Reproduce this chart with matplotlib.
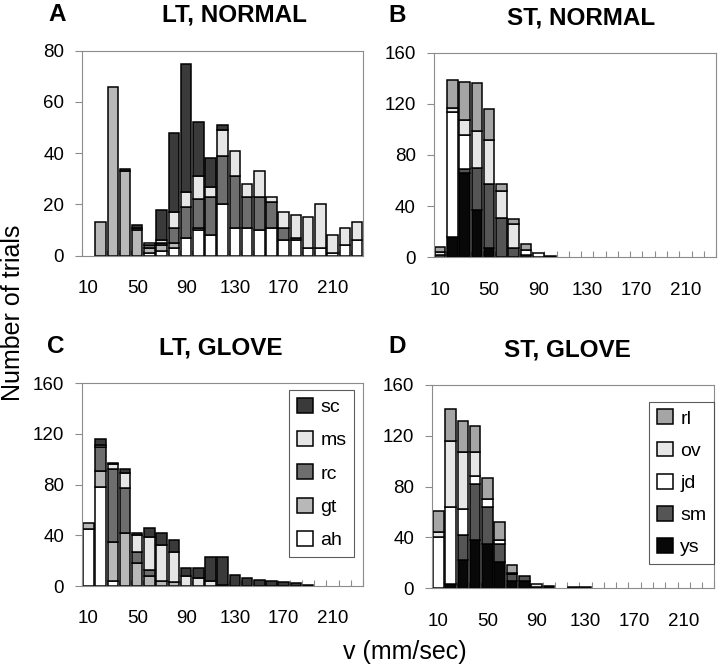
import numpy as np
import matplotlib
matplotlib.use("Agg")
import matplotlib.pyplot as plt
from matplotlib.patches import Patch

plt.rcParams['font.family'] = ['Liberation Sans', 'DejaVu Sans']

# speed bins (mm/sec), one category per 10 mm/sec
speeds = np.arange(10, 240, 10)

# A: LT, NORMAL (stack order bottom -> top: ah, gt, rc, ms, sc)
lt_normal = {
    'ah': [0, 0, 0, 0, 0, 1, 2, 3, 7, 10, 8, 20, 11, 11, 10, 11, 6, 6, 3, 3, 1, 4, 6],
    'gt': [0, 13, 66, 33, 10, 2, 2, 2, 0, 1, 0, 0, 0, 0, 0, 0, 0, 0, 0, 0, 0, 0, 0],
    'rc': [0, 0, 0, 0, 1, 1, 1, 6, 12, 11, 15, 19, 20, 12, 13, 10, 5, 1, 0, 0, 0, 0, 0],
    'ms': [0, 0, 0, 0, 0, 1, 1, 6, 6, 9, 4, 10, 10, 5, 10, 2, 6, 9, 12, 17, 7, 7, 7],
    'sc': [0, 0, 0, 1, 1, 0, 12, 31, 50, 21, 11, 2, 0, 0, 0, 0, 0, 0, 0, 0, 0, 0, 0],
}
# C: LT, GLOVE
lt_glove = {
    'ah': [45, 78, 4, 0, 0, 0, 0, 0, 0, 0, 0, 0, 0, 0, 0, 0, 0, 0, 0, 0, 0, 0, 0],
    'gt': [5, 13, 31, 42, 18, 8, 4, 3, 0, 0, 0, 0, 0, 0, 0, 0, 0, 0, 0, 0, 0, 0, 0],
    'rc': [0, 19, 57, 35, 9, 5, 0, 0, 0, 0, 0, 0, 0, 0, 0, 0, 0, 0, 0, 0, 0, 0, 0],
    'ms': [0, 1, 4, 12, 13, 26, 28, 24, 8, 6, 4, 1, 0, 0, 0, 0, 0, 0, 0, 0, 0, 0, 0],
    'sc': [0, 5, 1, 3, 2, 7, 10, 9, 6, 8, 19, 22, 9, 6, 5, 4, 3, 2, 1, 0, 0, 0, 0],
}
# B: ST, NORMAL (stack order bottom -> top: ys, sm, jd, ov, rl)
st_normal = {
    'ys': [0, 16, 66, 37, 7, 0, 0, 0, 0, 1, 0, 0, 0, 0, 0, 0, 0, 0, 0, 0, 0, 0, 0],
    'sm': [0, 0, 3, 33, 50, 31, 7, 2, 0, 0, 0, 0, 0, 0, 0, 0, 0, 0, 0, 0, 0, 0, 0],
    'jd': [2, 98, 27, 0, 0, 0, 0, 4, 3, 0, 0, 0, 0, 0, 0, 0, 0, 0, 0, 0, 0, 0, 0],
    'ov': [2, 3, 11, 29, 35, 21, 19, 0, 0, 0, 0, 0, 0, 0, 0, 0, 0, 0, 0, 0, 0, 0, 0],
    'rl': [4, 22, 30, 37, 24, 5, 4, 4, 0, 0, 0, 0, 0, 0, 0, 0, 0, 0, 0, 0, 0, 0, 0],
}
# D: ST, GLOVE
st_glove = {
    'ys': [0, 3, 22, 38, 35, 21, 6, 6, 1, 2, 0, 1, 1, 0, 0, 0, 0, 0, 0, 0, 0, 0, 0],
    'sm': [0, 0, 20, 44, 29, 14, 5, 4, 0, 0, 0, 0, 0, 0, 0, 0, 0, 0, 0, 0, 0, 0, 0],
    'jd': [40, 61, 20, 6, 6, 3, 1, 0, 0, 0, 0, 0, 0, 0, 0, 0, 0, 0, 0, 0, 0, 0, 0],
    'ov': [4, 52, 45, 19, 0, 0, 0, 0, 2, 0, 0, 0, 0, 0, 0, 0, 0, 0, 0, 0, 0, 0, 0],
    'rl': [17, 25, 25, 21, 17, 14, 6, 0, 0, 0, 0, 0, 0, 0, 0, 0, 0, 0, 0, 0, 0, 0, 0],
}

lt_colors = {'ah': '#ffffff', 'gt': '#b8b8b8', 'rc': '#6e6e6e', 'ms': '#e6e6e6', 'sc': '#3a3a3a'}
st_colors = {'ys': '#080808', 'sm': '#555555', 'jd': '#ffffff', 'ov': '#e6e6e6', 'rl': '#a5a5a5'}

GRAY = '#8c8c8c'


def panel(rect, layers, colors, ymax, ystep, legend=None, lspace=0.78):
    ax = fig.add_axes(rect)
    x = np.arange(len(speeds))
    bottom = np.zeros(len(speeds))
    for name, vals in layers.items():
        vals = np.asarray(vals, dtype=float)
        keep = vals > 0
        ax.bar(x[keep], vals[keep], bottom=bottom[keep], width=0.86,
               color=colors[name], edgecolor='black', linewidth=1.1)
        bottom += vals
    ax.set_xlim(-0.5, len(speeds) - 0.5)
    ax.set_ylim(0, ymax)
    ax.set_axisbelow(True)
    for s in ax.spines.values():
        s.set_color(GRAY)
        s.set_linewidth(0.8)
    ax.set_xticks(x[::4])
    ax.set_xticklabels([str(v) for v in speeds[::4]])
    ax.set_xticks(np.arange(-0.5, len(speeds), 1), minor=True)
    ax.tick_params(axis='x', which='major', length=0, pad=17.5, labelsize=13.5)
    ax.tick_params(axis='x', which='minor', direction='in', length=4, color=GRAY, width=0.8)
    ax.set_yticks(np.arange(0, ymax + 1, ystep))
    ax.tick_params(axis='y', length=5, color=GRAY, width=0.8, pad=8, labelsize=13.5)
    if legend is not None:
        names = list(layers.keys())[::-1]
        handles = [Patch(facecolor=colors[n], edgecolor='black', linewidth=1.1) for n in names]
        leg = ax.legend(handles, names, loc='upper right', bbox_to_anchor=legend,
                        fontsize=14, frameon=True, fancybox=False, borderaxespad=0,
                        handlelength=0.8, handleheight=0.8, handletextpad=0.4,
                        labelspacing=lspace, borderpad=0.4)
        leg.get_frame().set_edgecolor('#333333')
        leg.get_frame().set_linewidth(0.8)
    return ax


fig = plt.figure(figsize=(7.2, 6.66), dpi=100)

panel([0.1143, 0.616, 0.390, 0.3078], lt_normal, lt_colors, 80, 20)
panel([0.6028, 0.6137, 0.3917, 0.3072], st_normal, st_colors, 160, 40)
panel([0.1143, 0.1201, 0.390, 0.3044], lt_glove, lt_colors, 160, 40, legend=(0.969, 0.967))
panel([0.6004, 0.1167, 0.3917, 0.3053], st_glove, st_colors, 160, 40, legend=(1.0, 0.918),
      lspace=0.72)

titles = [('LT, NORMAL', 0.325, 0.9775), ('ST, NORMAL', 0.807, 0.973),
          ('LT, GLOVE', 0.307, 0.4775), ('ST, GLOVE', 0.788, 0.4745)]
for t, tx, ty in titles:
    fig.text(tx, ty, t, ha='center', va='center', fontsize=17.5, fontweight='bold')

letters = [('A', 0.080, 0.978), ('B', 0.551, 0.977), ('C', 0.077, 0.480), ('D', 0.551, 0.479)]
for t, tx, ty in letters:
    fig.text(tx, ty, t, ha='center', va='center', fontsize=17.5, fontweight='bold')

fig.text(0.018, 0.531, 'Number of trials', rotation=90, ha='center', va='center', fontsize=18)
fig.text(0.5625, 0.021, 'v (mm/sec)', ha='center', va='center', fontsize=18)

fig.savefig('out.png', dpi=100)
